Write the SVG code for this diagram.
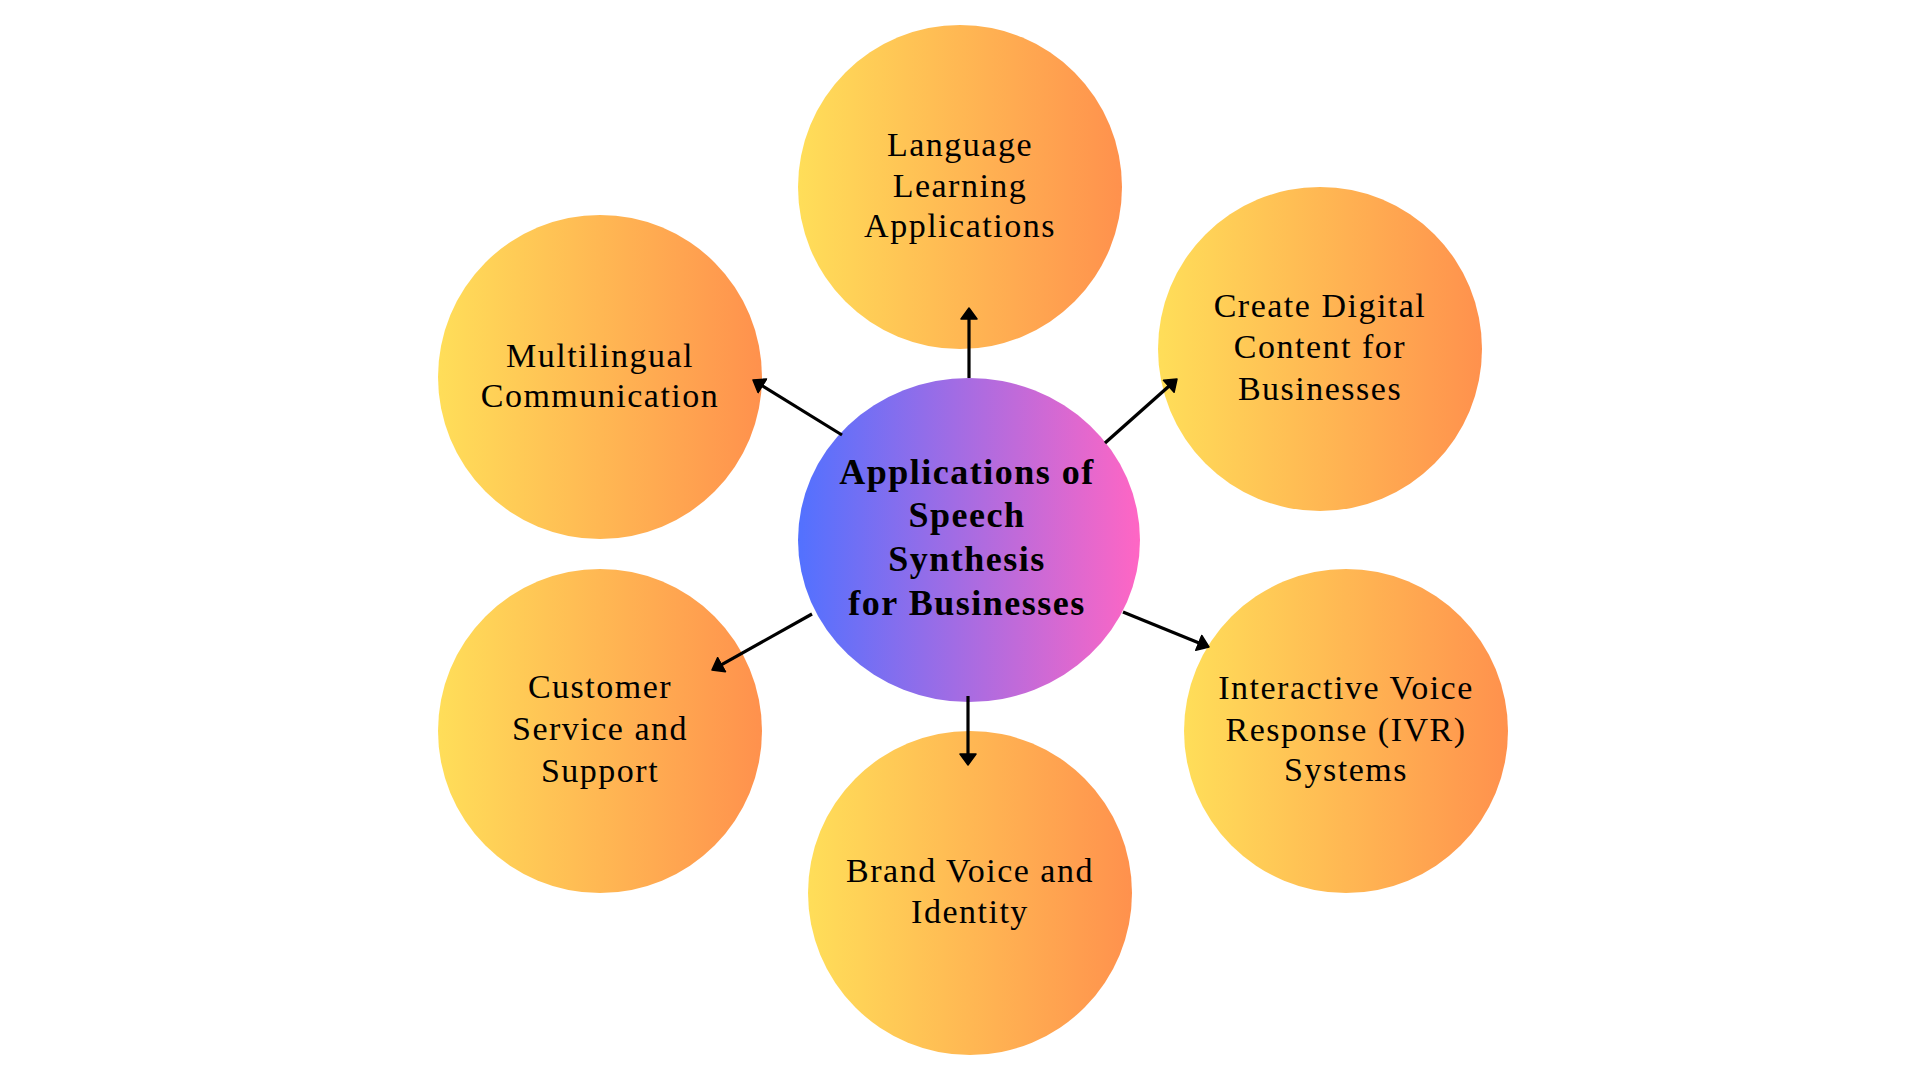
<svg xmlns="http://www.w3.org/2000/svg" width="1920" height="1080" viewBox="0 0 1920 1080">
<defs>
<linearGradient id="gOuter" x1="0" y1="0" x2="1" y2="0">
<stop offset="0" stop-color="#FFDE59"/>
<stop offset="1" stop-color="#FF914D"/>
</linearGradient>
<linearGradient id="gCenter" x1="0" y1="0" x2="1" y2="0">
<stop offset="0" stop-color="#5271FF"/>
<stop offset="1" stop-color="#FF66C4"/>
</linearGradient>
<marker id="arrow" viewBox="-1 -1 13 18" refX="5" refY="8" markerWidth="13" markerHeight="18" markerUnits="userSpaceOnUse" orient="auto">
<path d="M0,0 L11,8 L0,16 Z" fill="#000" stroke="#000" stroke-width="1.5" stroke-linejoin="round"/>
</marker>
<style>
.outer { fill: url(#gOuter); }
.center { fill: url(#gCenter); }
.lbl { font-family: "Liberation Serif", "Times New Roman", serif; font-size: 34px; fill: #000; text-anchor: middle; letter-spacing: 1.5px; }
.title { font-family: "Liberation Serif", "Times New Roman", serif; font-size: 36px; font-weight: bold; fill: #000; text-anchor: middle; letter-spacing: 1.5px; }
.conn { stroke: #000; stroke-width: 3.2; fill: none; marker-end: url(#arrow); }
</style>
</defs>
<rect width="1920" height="1080" fill="#FFFFFF"/>

<g id="node-center">
<ellipse class="center" cx="969" cy="540" rx="171" ry="162"/>
<text class="title" x="967" y="484">Applications of</text>
<text class="title" x="967" y="527">Speech</text>
<text class="title" x="967" y="571">Synthesis</text>
<text class="title" x="967" y="615">for Businesses</text>
</g>

<g id="node-language">
<circle class="outer" cx="960" cy="187" r="162"/>
<text class="lbl" x="960" y="156">Language</text>
<text class="lbl" x="960" y="197">Learning</text>
<text class="lbl" x="960" y="237">Applications</text>
</g>

<g id="node-multilingual">
<circle class="outer" cx="600" cy="377" r="162"/>
<text class="lbl" x="600" y="367">Multilingual</text>
<text class="lbl" x="600" y="407">Communication</text>
</g>

<g id="node-digital">
<circle class="outer" cx="1320" cy="349" r="162"/>
<text class="lbl" x="1320" y="317">Create Digital</text>
<text class="lbl" x="1320" y="358">Content for</text>
<text class="lbl" x="1320" y="400">Businesses</text>
</g>

<g id="node-customer">
<circle class="outer" cx="600" cy="731" r="162"/>
<text class="lbl" x="600" y="698">Customer</text>
<text class="lbl" x="600" y="740">Service and</text>
<text class="lbl" x="600" y="782">Support</text>
</g>

<g id="node-ivr">
<circle class="outer" cx="1346" cy="731" r="162"/>
<text class="lbl" x="1346" y="699">Interactive Voice</text>
<text class="lbl" x="1346" y="741">Response (IVR)</text>
<text class="lbl" x="1346" y="781">Systems</text>
</g>

<g id="node-brand">
<circle class="outer" cx="970" cy="893" r="162"/>
<text class="lbl" x="970" y="882">Brand Voice and</text>
<text class="lbl" x="970" y="923">Identity</text>
</g>

<g id="connectors">
<line class="conn" x1="969" y1="378" x2="969" y2="314"/>
<line class="conn" x1="842" y1="435" x2="758.1" y2="383.2"/>
<line class="conn" x1="1105" y1="443" x2="1172.5" y2="383"/>
<line class="conn" x1="812" y1="614" x2="717.2" y2="667.1"/>
<line class="conn" x1="1123" y1="612" x2="1203.4" y2="644.7"/>
<line class="conn" x1="968" y1="696" x2="968" y2="759"/>
</g>
</svg>
